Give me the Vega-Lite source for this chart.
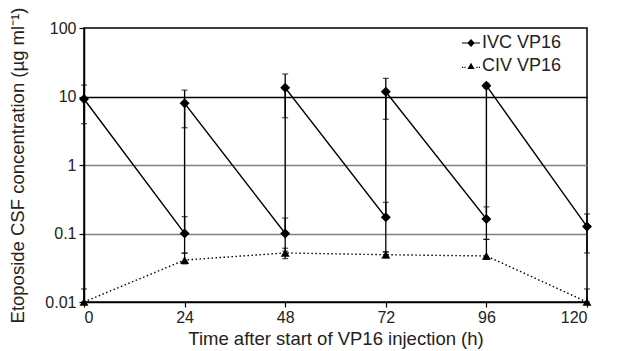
{
  "$schema": "https://vega.github.io/schema/vega-lite/v6.json",
  "width": 503,
  "height": 274,
  "autosize": {"type": "none"},
  "padding": {"left": 84, "top": 28, "right": 32, "bottom": 49},
  "background": "white",
  "config": {
    "font": "Liberation Sans",
    "view": {"stroke": "black", "strokeWidth": 1.5},
    "axis": {"labelFont": "Liberation Sans", "titleFont": "Liberation Sans", "labelColor": "#222", "titleColor": "#222", "labelFontSize": 16, "titleFontSize": 18.5, "titleFontWeight": "normal", "domainColor": "black", "domainWidth": 1.5, "tickColor": "black", "tickWidth": 1.2, "tickSize": 5}
  },
  "data": {
    "values": [
      {"series": "IVC VP16", "seq": 1, "t": 0, "v": 9.2, "lo": 4.0, "hi": 14.7},
      {"series": "IVC VP16", "seq": 2, "t": 24, "v": 0.1, "lo": 0.052, "hi": 0.176},
      {"series": "IVC VP16", "seq": 3, "t": 24, "v": 7.95, "lo": 3.5, "hi": 12.4},
      {"series": "IVC VP16", "seq": 4, "t": 48, "v": 0.1, "lo": 0.055, "hi": 0.168},
      {"series": "IVC VP16", "seq": 5, "t": 48, "v": 13.4, "lo": 4.9, "hi": 21.3},
      {"series": "IVC VP16", "seq": 6, "t": 72, "v": 0.172, "lo": 0.054, "hi": 0.285},
      {"series": "IVC VP16", "seq": 7, "t": 72, "v": 11.7, "lo": 4.65, "hi": 18.4},
      {"series": "IVC VP16", "seq": 8, "t": 96, "v": 0.163, "lo": 0.082, "hi": 0.245},
      {"series": "IVC VP16", "seq": 9, "t": 96, "v": 14.4, "lo": 13.2, "hi": 15.6},
      {"series": "IVC VP16", "seq": 10, "t": 120, "v": 0.126, "lo": 0.052, "hi": 0.193},
      {"series": "CIV VP16", "seq": 1, "t": 0, "v": 0.01, "lo": 0.01, "hi": 0.0155},
      {"series": "CIV VP16", "seq": 2, "t": 24, "v": 0.041, "lo": 0.036, "hi": 0.0515},
      {"series": "CIV VP16", "seq": 3, "t": 48, "v": 0.052, "lo": 0.043, "hi": 0.061},
      {"series": "CIV VP16", "seq": 4, "t": 72, "v": 0.049, "lo": 0.044, "hi": 0.054},
      {"series": "CIV VP16", "seq": 5, "t": 96, "v": 0.047, "lo": 0.042, "hi": 0.082},
      {"series": "CIV VP16", "seq": 6, "t": 120, "v": 0.01, "lo": 0.01, "hi": 0.0155}
    ]
  },
  "encoding": {
    "x": {
      "field": "t", "type": "quantitative",
      "scale": {"domain": [0, 120], "nice": false, "zero": false},
      "axis": {"values": [0, 24, 48, 72, 96, 120], "grid": false, "title": "Time after start of VP16 injection (h)", "labelPadding": 2, "titlePadding": 4, "zindex": 1}
    }
  },
  "layer": [
    {
      "mark": {"type": "errorbar", "color": "black", "thickness": 1.3, "ticks": {"size": 6, "thickness": 1.2, "color": "black"}},
      "encoding": {
        "y": {"field": "lo", "type": "quantitative", "scale": {"type": "log", "domain": [0.01, 100], "nice": false},
          "axis": {
            "values": [0.01, 0.1, 1, 10, 100],
            "grid": true,
            "gridColor": {"condition": {"test": "datum.value > 5", "value": "black"}, "value": "#808080"},
            "gridOpacity": {"condition": {"test": "datum.value < 0.02 || datum.value > 50", "value": 0}, "value": 1},
            "gridWidth": 1.3,
            "labelExpr": "datum.value < 1 ? format(datum.value, '.2~f') : format(datum.value, 'd')",
            "labelPadding": 3,
            "title": "Etoposide CSF concentration (µg ml⁻¹)",
            "titlePadding": 17
          }
        },
        "y2": {"field": "hi"}
      }
    },
    {
      "transform": [{"filter": "datum.series === 'IVC VP16'"}],
      "mark": {"type": "line", "color": "black", "strokeWidth": 1.4},
      "encoding": {
        "y": {"field": "v", "type": "quantitative"},
        "order": {"field": "seq"}
      }
    },
    {
      "transform": [{"filter": "datum.series === 'CIV VP16'"}],
      "mark": {"type": "line", "color": "black", "strokeWidth": 1.4, "strokeDash": [1.5, 2.5]},
      "encoding": {
        "y": {"field": "v", "type": "quantitative"},
        "order": {"field": "seq"}
      }
    },
    {
      "transform": [{"filter": "datum.series === 'IVC VP16'"}],
      "mark": {"type": "point", "shape": "diamond", "filled": true, "color": "black", "opacity": 1, "size": 100},
      "encoding": {
        "y": {"field": "v", "type": "quantitative"}
      }
    },
    {
      "transform": [{"filter": "datum.series === 'CIV VP16'"}],
      "mark": {"type": "point", "shape": "triangle-up", "filled": true, "color": "black", "opacity": 1, "size": 80},
      "encoding": {
        "y": {"field": "v", "type": "quantitative"}
      }
    },
    {
      "transform": [{"filter": "false"}],
      "mark": {"type": "point", "filled": true, "color": "black", "opacity": 1},
      "encoding": {
        "y": {"field": "v", "type": "quantitative"},
        "shape": {
          "field": "series", "type": "nominal",
          "scale": {"domain": ["IVC VP16", "CIV VP16"], "range": [
            "M-1,-0.065L1,-0.065L1,0.065L-1,0.065ZM-0.42,0L0,-0.45L0.42,0L0,0.45Z",
            "M-1,0.09L-0.87,0.09L-0.87,0.22L-1,0.22ZM-0.73,0.09L-0.6,0.09L-0.6,0.22L-0.73,0.22ZM0.6,0.09L0.73,0.09L0.73,0.22L0.6,0.22ZM0.87,0.09L1,0.09L1,0.22L0.87,0.22ZM-0.4,0.32L0,-0.36L0.4,0.32Z"
          ]},
          "legend": {
            "orient": "none", "legendX": 378, "legendY": 6, "title": null, "padding": 0,
            "labelFont": "Liberation Sans", "labelFontSize": 18, "labelColor": "#222", "labelOffset": 2,
            "symbolSize": 324, "rowPadding": 5,
            "symbolFillColor": "black", "symbolStrokeWidth": 0, "symbolOpacity": 1
          }
        }
      }
    }
  ]
}
